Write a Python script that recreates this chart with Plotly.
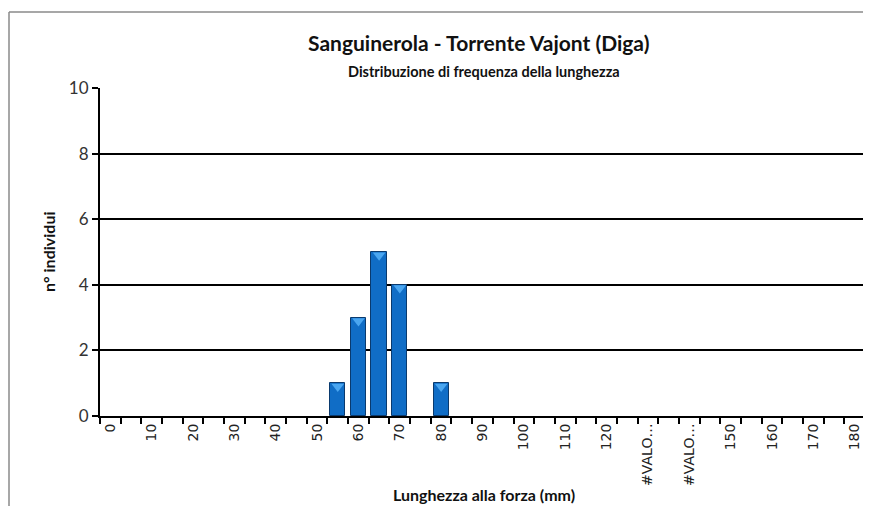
import plotly.graph_objects as go

# Data
lengths = [0, 5, 10, 15, 20, 25, 30, 35, 40, 45, 50, 55, 60, 65, 70, 75, 80, 85, 90,
           95, 100, 105, 110, 115, 120, 125, 130, 135, 140, 145, 150, 155, 160, 165,
           170, 175, 180]
counts = [0, 0, 0, 0, 0, 0, 0, 0, 0, 0, 0, 1, 3, 5, 4, 0, 1, 0, 0,
          0, 0, 0, 0, 0, 0, 0, 0, 0, 0, 0, 0, 0, 0, 0,
          0, 0, 0]
label_vals = [0, 10, 20, 30, 40, 50, 60, 70, 80, 90, 100, 110, 120, 130, 140, 150, 160, 170, 180]
label_text = ["0", "10", "20", "30", "40", "50", "60", "70", "80", "90", "100", "110", "120",
              "#VALO…", "#VALO…", "150", "160", "170", "180"]
y_ticks = [0, 2, 4, 6, 8, 10]

title = "Sanguinerola - Torrente Vajont (Diga)"
subtitle = "Distribuzione di frequenza della lunghezza"
x_title = "Lunghezza alla forza (mm)"
y_title = "n° individui"

step = lengths[1] - lengths[0]
boundaries = [v - step / 2 for v in lengths] + [lengths[-1] + step / 2]
outline_widths = [1 if c > 0 else 0 for c in counts]

fig = go.Figure()
fig.add_trace(go.Bar(
    x=lengths, y=counts, width=step * 0.74,
    marker=dict(color="#106DC6", line=dict(color="#0A3A6E", width=outline_widths)),
    showlegend=False, hoverinfo="skip",
))
# bevel highlight at the top of each non-empty bar
top_x = [x for x, c in zip(lengths, counts) if c > 0]
top_y = [c - 0.1 for c in counts if c > 0]
fig.add_trace(go.Scatter(
    x=top_x, y=top_y, mode="markers",
    marker=dict(symbol="triangle-down", size=11, color="#4AA6F0", line=dict(width=0)),
    showlegend=False, hoverinfo="skip",
))

# page has an 8px body margin: figure pixel = page pixel - 8
OFF = 8
W, H = 871 - OFF, 506 - OFF
ml, mr, mt, mb = 100 - OFF, 6, 88 - OFF, 90
pw, ph = W - ml - mr, H - mt - mb

def px_to_paper_x(px):
    return (px - OFF - ml) / pw

def px_to_paper_y(py):
    return (H - mb - (py - OFF)) / ph

frame = dict(color="#8a8a8a", width=1.5)

fig.update_layout(
    width=W, height=H,
    margin=dict(l=ml, r=mr, t=mt, b=mb),
    paper_bgcolor="white", plot_bgcolor="white",
    bargap=0,
    xaxis=dict(
        range=[boundaries[0], boundaries[-1]],
        tickmode="array", tickvals=label_vals, ticktext=label_text,
        tickangle=-90, ticks="",
        tickfont=dict(family="DejaVu Sans", size=14, color="#222"),
        showline=True, linecolor="black", linewidth=2,
        showgrid=False, zeroline=False,
        minor=dict(tickmode="array", tickvals=boundaries, ticks="outside",
                   ticklen=6, tickwidth=1.5, tickcolor="black", showgrid=False),
    ),
    yaxis=dict(
        range=[0, 10], tickmode="array", tickvals=y_ticks,
        ticks="outside", ticklen=6, tickwidth=1.5, tickcolor="black",
        tickfont=dict(family="Lato", size=17, color="#333"),
        showline=True, linecolor="black", linewidth=2,
        showgrid=True, gridcolor="black", gridwidth=1.5, zeroline=False,
    ),
    annotations=[
        dict(text="<b>" + title + "</b>", xref="paper", yref="paper",
             x=px_to_paper_x(478), y=px_to_paper_y(42), showarrow=False,
             font=dict(family="Lato", size=21, color="#111"), xanchor="center", yanchor="middle"),
        dict(text="<b>" + subtitle + "</b>", xref="paper", yref="paper",
             x=px_to_paper_x(484), y=px_to_paper_y(71), showarrow=False,
             font=dict(family="Lato", size=14.5, color="#111"), xanchor="center", yanchor="middle"),
        dict(text="<b>" + x_title + "</b>", xref="paper", yref="paper",
             x=px_to_paper_x(484), y=px_to_paper_y(494), showarrow=False,
             font=dict(family="Lato", size=16, color="#111"), xanchor="center", yanchor="middle"),
        dict(text="<b>" + y_title + "</b>", xref="paper", yref="paper",
             x=px_to_paper_x(48), y=px_to_paper_y(252), showarrow=False, textangle=-90,
             font=dict(family="Lato", size=16, color="#111"), xanchor="center", yanchor="middle"),
    ],
    shapes=[
        dict(type="line", xref="paper", yref="paper",
             x0=px_to_paper_x(9), y0=px_to_paper_y(12), x1=px_to_paper_x(871), y1=px_to_paper_y(12),
             line=frame, layer="below"),
        dict(type="line", xref="paper", yref="paper",
             x0=px_to_paper_x(9), y0=px_to_paper_y(12), x1=px_to_paper_x(9), y1=px_to_paper_y(506),
             line=frame, layer="below"),
    ],
)

fig.write_html("out.html", config={"displayModeBar": False})
